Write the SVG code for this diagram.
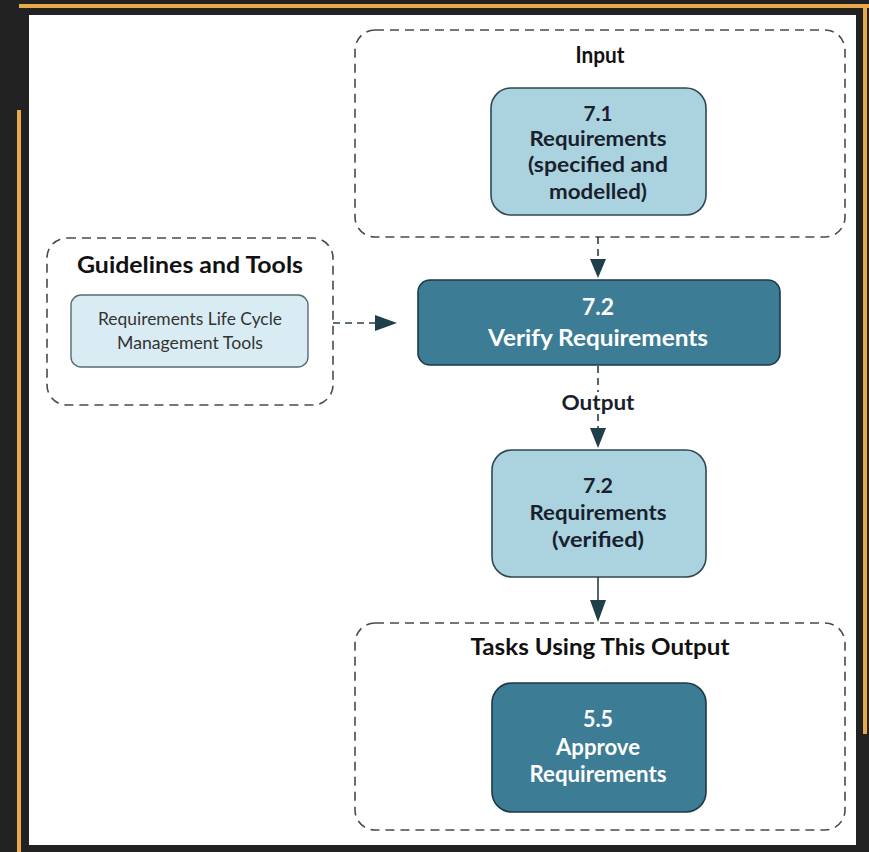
<svg xmlns="http://www.w3.org/2000/svg" width="869" height="852" viewBox="0 0 869 852">
<defs>
<style>
.frame{fill:#e8a94a}
.group{fill:none;stroke:#4a4a4a;stroke-width:1.6;stroke-dasharray:9 6}
.light{fill:#abd3df;stroke:#2f4852;stroke-width:1.6}
.dark{fill:#3d7c95;stroke:#1d3944;stroke-width:1.6}
.pale{fill:#d9ecf3;stroke:#5a6a70;stroke-width:1.4}
.t{font-family:Lato,"Open Sans","DejaVu Sans",sans-serif;font-weight:700;text-anchor:middle}
.title{font-size:23px;fill:#111}
.inb{font-size:21px;fill:#1a1f2e}
.wb{font-size:23px;fill:#ffffff}
.reg{font-family:Lato,"Open Sans","DejaVu Sans",sans-serif;font-weight:400;font-size:18px;fill:#333;text-anchor:middle}
.conn{stroke:#2a3f48;stroke-width:1.6;fill:none}
.dash{stroke-dasharray:7 5}
.head{fill:#1f3f4a}
</style>
</defs>
<rect x="0" y="0" width="869" height="852" fill="#222222"/>
<rect class="frame" x="19" y="4" width="850" height="4"/>
<rect class="frame" x="863" y="4" width="4" height="730"/>
<rect class="frame" x="17" y="110" width="4" height="742"/>
<rect x="29" y="15" width="827" height="830" fill="#ffffff"/>

<g id="input-group">
<rect class="group" x="355" y="30" width="490" height="207" rx="20"/>
<text class="t title" x="600" y="63" textLength="49" lengthAdjust="spacingAndGlyphs">Input</text>
</g>
<g id="node-7-1">
<rect class="light" x="491" y="88" width="215" height="127" rx="20"/>
<text class="t inb" x="598" y="121" textLength="29" lengthAdjust="spacingAndGlyphs">7.1</text>
<text class="t inb" x="598" y="146" textLength="137" lengthAdjust="spacingAndGlyphs">Requirements</text>
<text class="t inb" x="598" y="172" textLength="140" lengthAdjust="spacingAndGlyphs">(specified and</text>
<text class="t inb" x="598" y="199" textLength="98" lengthAdjust="spacingAndGlyphs">modelled)</text>
</g>

<g id="guidelines-group">
<rect class="group" x="47" y="238" width="286" height="167" rx="20"/>
<text class="t title" x="190" y="273" font-size="24" textLength="226" lengthAdjust="spacingAndGlyphs">Guidelines and Tools</text>
</g>
<g id="node-tools">
<rect class="pale" x="71" y="295" width="237" height="72" rx="10"/>
<text class="reg" x="190" y="325" textLength="184" lengthAdjust="spacingAndGlyphs">Requirements Life Cycle</text>
<text class="reg" x="190" y="349" textLength="146" lengthAdjust="spacingAndGlyphs">Management Tools</text>
</g>

<g id="node-7-2-verify">
<rect class="dark" x="418" y="280" width="362" height="85" rx="12"/>
<text class="t wb" x="598" y="315" textLength="32" lengthAdjust="spacingAndGlyphs">7.2</text>
<text class="t wb" x="598" y="346" textLength="220" lengthAdjust="spacingAndGlyphs">Verify Requirements</text>
</g>

<g id="output-label">
<text class="t inb" x="598" y="410" textLength="73" lengthAdjust="spacingAndGlyphs">Output</text>
</g>

<g id="node-7-2-verified">
<rect class="light" x="492" y="450" width="214" height="127" rx="20"/>
<text class="t inb" x="598" y="493" textLength="30" lengthAdjust="spacingAndGlyphs">7.2</text>
<text class="t inb" x="598" y="520" textLength="137" lengthAdjust="spacingAndGlyphs">Requirements</text>
<text class="t inb" x="598" y="547" textLength="92" lengthAdjust="spacingAndGlyphs">(verified)</text>
</g>

<g id="tasks-group">
<rect class="group" x="355" y="623" width="490" height="207" rx="20"/>
<text class="t title" x="600" y="655" textLength="259" lengthAdjust="spacingAndGlyphs">Tasks Using This Output</text>
</g>
<g id="node-5-5">
<rect class="dark" x="492" y="683" width="214" height="129" rx="20"/>
<text class="t wb" x="598" y="727" font-size="21" textLength="30" lengthAdjust="spacingAndGlyphs">5.5</text>
<text class="t wb" x="598" y="755" font-size="21" textLength="84" lengthAdjust="spacingAndGlyphs">Approve</text>
<text class="t wb" x="598" y="782" font-size="21" textLength="137" lengthAdjust="spacingAndGlyphs">Requirements</text>
</g>

<g id="connectors">
<line class="conn dash" x1="598" y1="237" x2="598" y2="260"/>
<polygon class="head" points="590,259 606,259 598,278"/>
<line class="conn dash" x1="598" y1="366" x2="598" y2="392"/>
<line class="conn dash" x1="598" y1="414" x2="598" y2="430"/>
<polygon class="head" points="590,428 606,428 598,448"/>
<line class="conn" x1="598" y1="577" x2="598" y2="601"/>
<polygon class="head" points="590,600 606,600 598,622"/>
<line class="conn dash" x1="333" y1="323" x2="377" y2="323"/>
<polygon class="head" points="375,315 375,331 397,323"/>
</g>
</svg>
